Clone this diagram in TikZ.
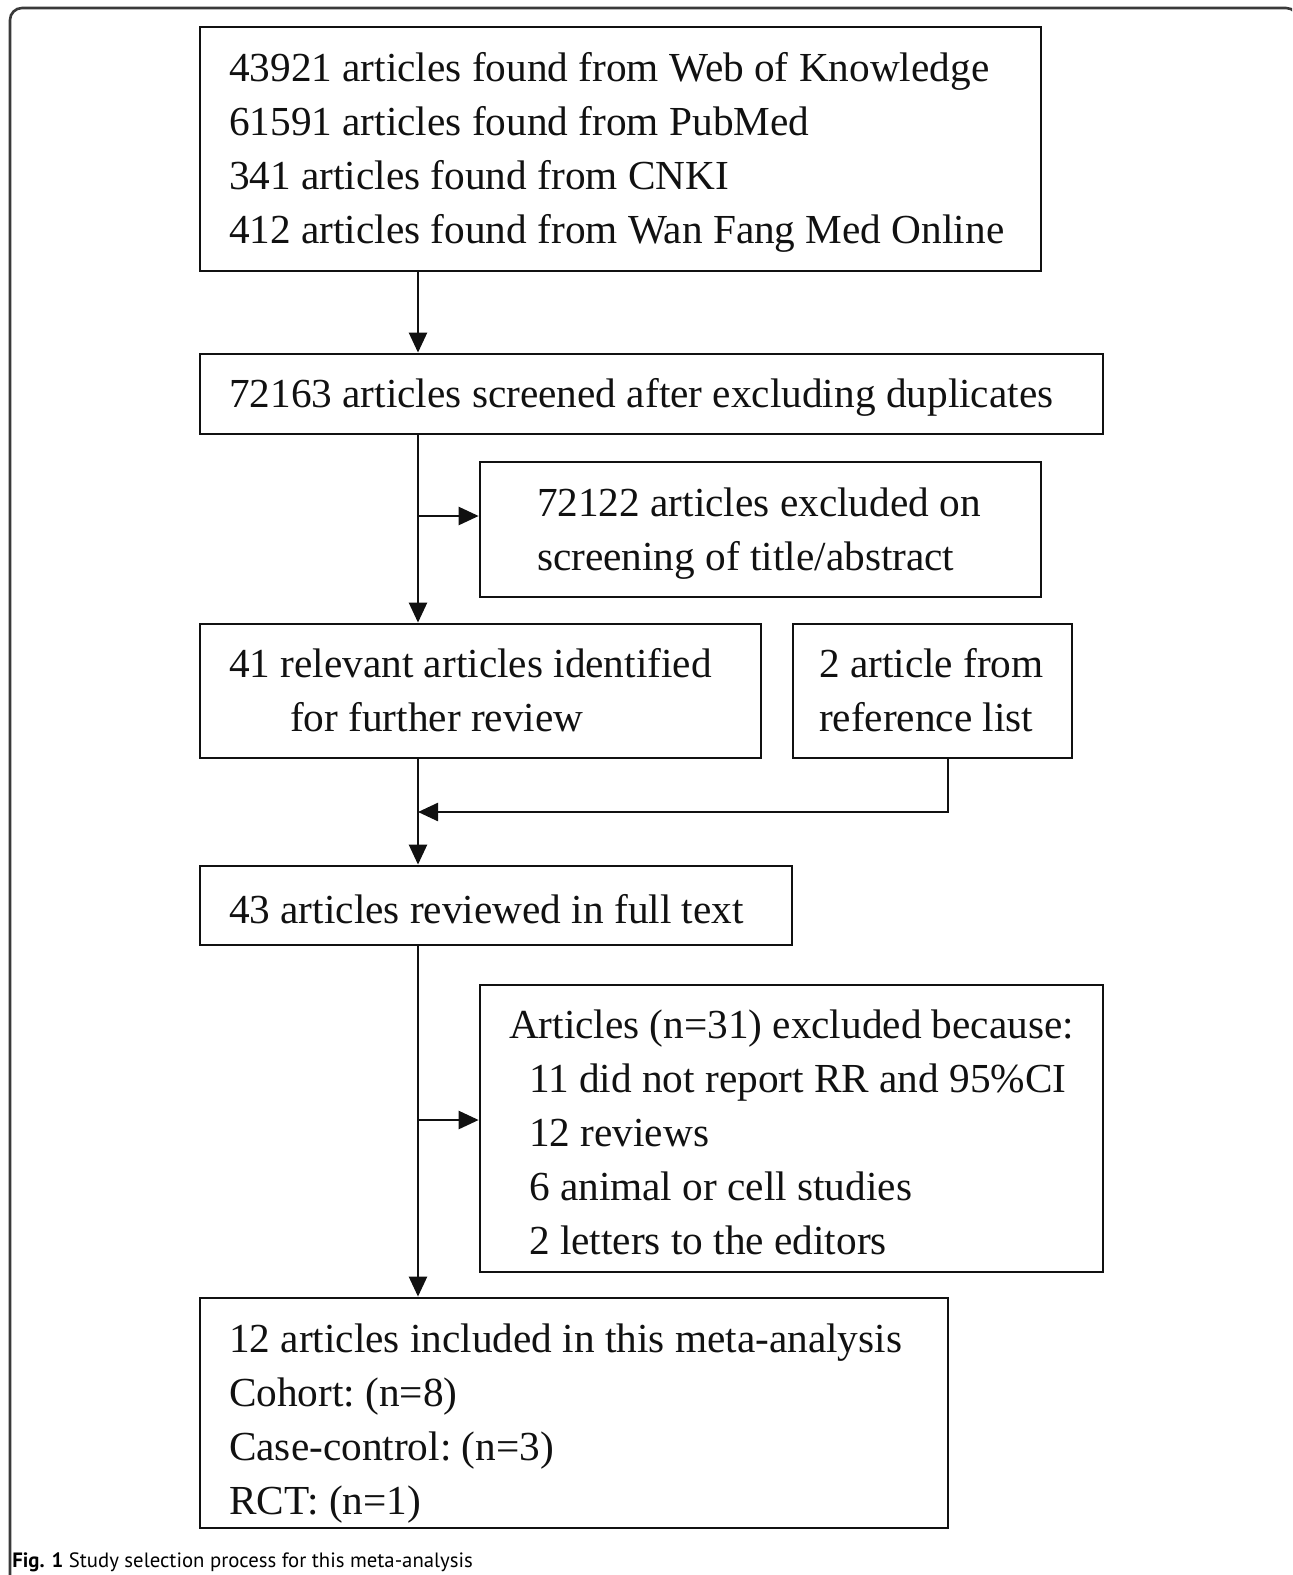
\documentclass[tikz,border=0pt]{standalone}
\usepackage{fontspec}
\setmainfont{Liberation Serif}
\newfontfamily\capfont{PT Sans}
\usetikzlibrary{arrows.meta}
\definecolor{ssFrame}{HTML}{3A3A3A}
\definecolor{ssInk}{HTML}{111111}

\begin{document}
\begin{tikzpicture}[x=0.02cm,y=-0.02cm,
		stage/.style={draw=ssInk,line width=1.6pt,inner xsep=0.58cm,inner ysep=0pt,text height=20.5pt,
			align=flush left,text=ssInk,font=\fontsize{23.5}{30.8}\selectfont\frenchspacing},
		flow/.style={ssInk,line width=1.4pt,-{Triangle[length=0.4cm,width=0.36cm]}}]
		\useasboundingbox (0,0) rectangle (1292,1575);
		\begin{scope}
			\clip (0,0) rectangle (1292,1575);
			\draw[ssFrame,line width=1.5pt,rounded corners=0.24cm] (10,1600) -- (10,8) -- (1298,8) -- (1298,1600);
		\end{scope}
		\node[stage,minimum height=4.88cm,text width=15.66cm] (found) at (620.5,149)
			{43921 articles found from Web of Knowledge\\61591 articles found from PubMed\\341 articles found from CNKI\\412 articles found from Wan Fang Med Online};
		\node[stage,minimum height=1.6cm,text width=16.9cm] (screened) at (651.5,394)
			{72163 articles screened after excluding duplicates};
		\node[stage,minimum height=2.7cm,inner xsep=1.14cm,text width=8.94cm] (excl1) at (760.5,529.5)
			{72122 articles excluded on\\screening of title/abstract};
		\node[stage,minimum height=2.68cm,text width=10.06cm,text height=16pt] (relevant) at (480.5,691)
			{41 relevant articles identified\\\hspace*{1.22cm}for further review};
		\node[stage,minimum height=2.68cm,inner xsep=0.52cm,text width=4.54cm,text height=16pt] (reflist) at (932.5,691)
			{2 article from\\reference list};
		\node[stage,minimum height=1.58cm,text width=10.68cm] (fulltext) at (496,905.5)
			{43 articles reviewed in full text};
		\node[stage,minimum height=5.74cm,text width=11.3cm] (excl2) at (791.5,1128.5)
			{Articles (n=31) excluded because:\\\hspace*{0.4cm}11 did not report RR and 95\%CI\\\hspace*{0.4cm}12 reviews\\\hspace*{0.4cm}6 animal or cell studies\\\hspace*{0.4cm}2 letters to the editors};
		\node[stage,minimum height=4.6cm,text width=13.8cm,text height=28.5pt] (included) at (574,1413)
			{12 articles included in this meta-analysis\\Cohort: (n=8)\\Case-control: (n=3)\\RCT: (n=1)};
		\node[anchor=west,inner sep=0pt,font=\capfont\fontsize{11.8}{14}\selectfont] (caption) at (12,1562)
			{\textbf{Fig. 1} Study selection process for this meta-analysis};
		\coordinate (trunk) at (418,0);
		\coordinate (cut1) at (418,516);
		\coordinate (join) at (418,812);
		\coordinate (drop) at (948,0);
		\coordinate (cut2) at (418,1120);
		\draw[flow] (found.south -| trunk) -- (screened.north -| trunk);
		\draw[flow] (screened.south -| trunk) -- (relevant.north -| trunk);
		\draw[flow] (cut1) -- (cut1 -| excl1.west);
		\draw[flow] (relevant.south -| trunk) -- (fulltext.north -| trunk);
		\draw[flow] (reflist.south -| drop) |- (join);
		\draw[flow] (fulltext.south -| trunk) -- (included.north -| trunk);
		\draw[flow] (cut2) -- (cut2 -| excl2.west);
	\end{tikzpicture}
\end{document}
